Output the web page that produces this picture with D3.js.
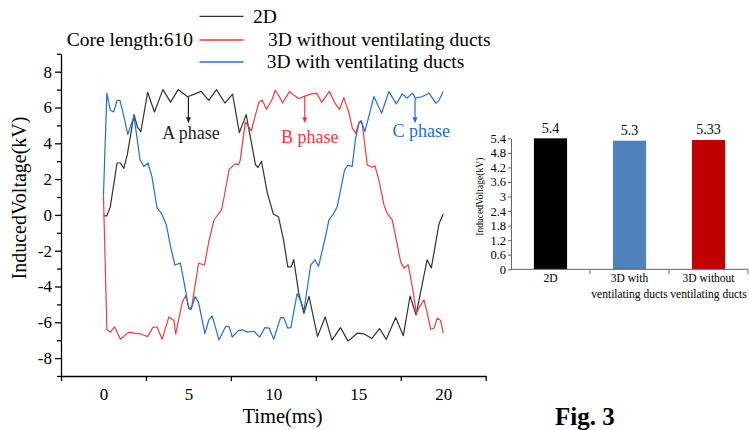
<!DOCTYPE html>
<html>
<head>
<meta charset="utf-8">
<script src="https://cdn.jsdelivr.net/npm/d3@7"></script>
<style>
  body { margin: 0; background: #fff; }
  svg, svg text { font-family: "Liberation Serif", "Times New Roman", serif; }
</style>
</head>
<body>
<svg width="749" height="430"></svg>
<script>
// induced voltage waveforms, [time ms, kV]
const series2D = [[0,-0.05],[0.2,-0.05],[0.4,0.45],[0.8,2.9],[1.0,2.9],[1.2,2.6],[1.4,3.35],[1.8,5.6],[2.0,4.9],[2.2,4.65],
  [2.6,6.85],[3.0,5.75],[3.5,7.0],[3.95,6.3],[4.4,7.0],[4.95,6.6],[5.35,6.75],[5.75,6.9],[6.2,6.4],[6.65,7.0],[7.15,6.25],[7.6,6.75],
  [8.0,4.6],[8.4,5.6],[8.95,2.8],[9.1,2.65],[9.3,3.0],[9.65,1.2],[10.0,0.05],[10.3,-0.1],[10.6,-1.4],[10.85,-2.9],[11.05,-2.9],
  [11.2,-2.5],[11.5,-4.4],[11.8,-5.5],[12.1,-4.55],[12.6,-6.8],[13.05,-5.7],[13.45,-7.0],[13.95,-6.3],[14.4,-7.05],[14.95,-6.6],
  [15.35,-6.65],[15.8,-6.9],[16.25,-6.35],[16.65,-6.95],[17.2,-5.73],[17.65,-6.75],[18.05,-4.53],[18.4,-5.59],[19.05,-2.51],
  [19.3,-2.96],[19.75,-0.5],[20.0,0.05]];
const series3DNoDuct = [[0,1.1],[0.2,-6.4],[0.4,-6.55],[0.65,-6.25],[1.0,-6.95],[1.5,-6.55],[1.8,-6.6],[2.2,-6.65],[2.6,-6.8],
  [2.9,-6.3],[3.15,-6.25],[3.45,-6.95],[3.85,-5.7],[4.15,-5.9],[4.25,-6.65],[4.65,-4.85],[4.85,-4.5],[5.05,-5.25],[5.2,-5.1],
  [5.6,-2.7],[5.95,-2.8],[6.2,-1.5],[6.5,-0.3],[6.95,0.3],[7.1,1.0],[7.4,2.55],[7.75,2.85],[7.95,2.8],[8.05,3.05],[8.35,5.2],
  [8.7,4.7],[9.15,6.3],[9.35,6.4],[9.6,5.9],[9.95,6.5],[10.1,6.95],[10.3,6.7],[10.55,6.25],[10.95,6.9],[11.2,6.7],[11.5,6.5],
  [11.9,6.65],[12.2,6.75],[12.55,6.8],[12.85,6.3],[13.3,6.9],[13.65,6.2],[13.9,5.9],[14.15,6.55],[14.45,5.7],[14.65,4.85],
  [14.85,4.55],[15.05,5.2],[15.23,5.12],[15.53,2.79],[15.82,2.66],[15.98,2.74],[16.21,1.96],[16.51,0.56],[16.7,0.09],[17.0,-0.28],
  [17.2,-1.21],[17.49,-2.61],[17.69,-2.98],[17.94,-2.79],[18.18,-4.0],[18.42,-5.49],[18.61,-5.12],[18.87,-4.75],[19.06,-5.49],
  [19.26,-6.39],[19.46,-6.33],[19.65,-5.77],[19.85,-5.9],[20.0,-6.6]];
const series3DDuct = [[0,1.1],[0.2,6.8],[0.4,5.85],[0.6,5.75],[0.8,6.4],[0.97,6.4],[1.2,5.5],[1.43,4.5],[1.65,5.1],[1.8,5.5],
  [2.15,3.1],[2.37,2.7],[2.62,2.9],[2.85,2.15],[3.15,0.4],[3.4,0.1],[3.7,-0.55],[3.95,-1.77],[4.2,-2.79],[4.53,-2.7],[4.85,-4.3],
  [5.0,-5.2],[5.15,-5.3],[5.4,-4.56],[5.6,-4.9],[5.97,-6.63],[6.2,-5.87],[6.4,-5.64],[6.8,-6.98],[7.2,-6.22],[7.4,-6.24],
  [7.58,-6.83],[7.95,-6.45],[8.2,-6.42],[8.47,-6.55],[8.85,-6.5],[9.2,-6.83],[9.5,-6.3],[9.75,-6.32],[10.02,-6.95],[10.42,-5.75],
  [10.6,-5.72],[10.85,-6.33],[11.03,-6.3],[11.4,-4.4],[11.62,-4.84],[11.8,-5.35],[12.2,-2.8],[12.45,-2.51],[12.66,-2.87],
  [13.07,-1.21],[13.27,-0.28],[13.56,0.09],[13.76,0.46],[13.96,1.4],[14.19,2.5],[14.39,2.79],[14.64,2.7],[14.84,4.28],[15.04,5.12],
  [15.17,5.27],[15.39,4.65],[15.92,6.61],[16.37,5.68],[16.8,6.89],[17.24,6.2],[17.59,6.76],[17.88,6.52],[18.18,6.8],[18.37,6.52],
  [18.75,6.6],[19.16,6.8],[19.56,6.24],[19.75,6.4],[20.0,6.9]];

const seriesNames = ["2D", "3D without ventilating ducts", "3D with ventilating ducts"];
const seriesColors = ["#333333", "#f23a3a", "#1f6fd6"];
const xMajorTicks = [0, 5, 10, 15, 20];
const xMinorTicks = [-2.5, 2.5, 7.5, 12.5, 17.5, 22.5];
const yMajorTicks = [-8, -6, -4, -2, 0, 2, 4, 6, 8];
const yMinorTicks = [-9, -7, -5, -3, -1, 1, 3, 5, 7, 9];

// phase annotations: label, time, arrow top, arrow tip, label time, label value
const phaseLabels = ["A phase", "B phase", "C phase"];
const phaseTimes = [5.0, 11.85, 18.34];
const phaseTop = [6.58, 6.65, 6.52];
const phaseTip = [5.12, 5.12, 5.12];
const phaseTextT = [5.15, 12.15, 18.7];
const phaseTextV = [4.25, 4.04, 4.34];
const phaseColors = ["#222222", "#f23a3a", "#1f6fd6"];

// inset bar chart
const barCategories = ["2D", "3D with ventilating ducts", "3D without ventilating ducts"];
const barLines = [["2D"], ["3D with", "ventilating ducts"], ["3D without", "ventilating ducts"]];
const barValues = [5.4, 5.3, 5.33];
const barLabels = ["5.4", "5.3", "5.33"];
const barColors = ["#000000", "#4f81bd", "#c00000"];
const barTicks = [0, 0.6, 1.2, 1.8, 2.4, 3, 3.6, 4.2, 4.8, 5.4];

const svg = d3.select("svg");

// ---- main chart ----
const x = d3.scaleLinear().domain([-2.5, 22.5]).range([61, 485.7]);
const y = d3.scaleLinear().domain([-9, 9]).range([376, 53.8]);

const line = d3.line().x(d => x(d[0])).y(d => y(d[1]));
[series2D, series3DNoDuct, series3DDuct].forEach((s, i) => {
  svg.append("path").datum(s)
    .attr("d", line)
    .attr("fill", "none")
    .attr("stroke", seriesColors[i])
    .attr("stroke-width", 1.2)
    .attr("stroke-linejoin", "round");
});

// axes (drop d3's default sans-serif font attrs)
function cleanAxis(g, size) {
  g.attr("font-family", null).attr("font-size", null);
  g.selectAll("text").attr("font-size", size).attr("fill", "#000");
  return g;
}

svg.append("g").attr("transform", `translate(${x(-2.5)},0)`)
  .call(d3.axisLeft(y).tickValues(yMinorTicks).tickSize(4).tickSizeOuter(0).tickFormat(""));
const yAxis = svg.append("g").attr("transform", `translate(${x(-2.5)},0)`)
  .call(d3.axisLeft(y).tickValues(yMajorTicks).tickSize(6).tickPadding(3).tickSizeOuter(0).tickFormat(d => String(d)));
yAxis.select(".domain").remove();
cleanAxis(yAxis, 17);

svg.append("g").attr("transform", `translate(0,${y(-9)})`)
  .call(d3.axisBottom(x).tickValues(xMinorTicks).tickSize(5).tickSizeOuter(0).tickFormat(""));
const xAxis = svg.append("g").attr("transform", `translate(0,${y(-9)})`)
  .call(d3.axisBottom(x).tickValues(xMajorTicks).tickSize(0).tickPadding(12).tickFormat(d => String(d)));
xAxis.select(".domain").remove();
cleanAxis(xAxis, 17);

svg.selectAll(".domain, .tick line").attr("stroke", "#000").attr("stroke-width", 1.3);

svg.append("text").attr("x", 282.5).attr("y", 423).attr("text-anchor", "middle")
  .attr("font-size", 20.5).text("Time(ms)");
svg.append("text").attr("transform", "translate(25.5,198) rotate(-90)").attr("text-anchor", "middle")
  .attr("font-size", 20).text("InducedVoltage(kV)");

// phase arrows
phaseLabels.forEach((lab, i) => {
  const ax = x(phaseTimes[i]);
  svg.append("line").attr("x1", ax).attr("x2", ax)
    .attr("y1", y(phaseTop[i])).attr("y2", y(phaseTip[i]) - 5)
    .attr("stroke", phaseColors[i]).attr("stroke-width", 1.2);
  svg.append("path")
    .attr("d", `M${ax - 2.5},${y(phaseTip[i]) - 6}L${ax + 2.5},${y(phaseTip[i]) - 6}L${ax},${y(phaseTip[i])}Z`)
    .attr("fill", phaseColors[i]);
  svg.append("text").attr("x", x(phaseTextT[i])).attr("y", y(phaseTextV[i]))
    .attr("text-anchor", "middle").attr("font-size", 18).attr("fill", phaseColors[i]).text(lab);
});

// legend
const legendY = [16.3, 40, 62];
const legendTextX = [253, 268, 266.7];
const legendTextY = [22.7, 45.5, 68];
seriesNames.forEach((n, i) => {
  svg.append("line").attr("x1", 199.5).attr("x2", 243.5).attr("y1", legendY[i]).attr("y2", legendY[i])
    .attr("stroke", seriesColors[i]).attr("stroke-width", 1.3);
  svg.append("text").attr("x", legendTextX[i]).attr("y", legendTextY[i])
    .attr("font-size", 19.5).text(n);
});
svg.append("text").attr("x", 66.7).attr("y", 45.5).attr("font-size", 19.5).text("Core length:610");

// ---- inset bar chart ----
const xb = d3.scaleBand().domain(barCategories).range([511, 748]).paddingInner(0.58).paddingOuter(0.29);
const yb = d3.scaleLinear().domain([0, 5.4]).range([269.3, 138.3]);

svg.selectAll(".bar").data(barValues).join("rect")
  .attr("class", "bar")
  .attr("x", (d, i) => xb(barCategories[i]))
  .attr("width", xb.bandwidth())
  .attr("y", d => yb(d))
  .attr("height", d => yb(0) - yb(d))
  .attr("fill", (d, i) => barColors[i]);

svg.selectAll(".barval").data(barValues).join("text")
  .attr("class", "barval")
  .attr("x", (d, i) => xb(barCategories[i]) + xb.bandwidth() / 2)
  .attr("y", d => yb(d) - 5.5)
  .attr("text-anchor", "middle").attr("font-size", 14)
  .text((d, i) => barLabels[i]);

const yBarAxis = svg.append("g").attr("transform", `translate(${xb.range()[0]},0)`)
  .call(d3.axisLeft(yb).tickValues(barTicks).tickSize(3).tickPadding(2).tickSizeOuter(0).tickFormat(d => String(d)));
cleanAxis(yBarAxis, 12.5);
yBarAxis.selectAll(".domain, line").attr("stroke", "#666");

// category axis with boundary ticks
const bounds = barCategories.map(c => xb(c) + xb.bandwidth() + xb.step() * xb.paddingInner() / 2);
svg.append("line").attr("x1", xb.range()[0]).attr("x2", xb.range()[1])
  .attr("y1", yb(0)).attr("y2", yb(0)).attr("stroke", "#666");
svg.selectAll(".bound").data(bounds).join("line").attr("class", "bound")
  .attr("x1", d => d).attr("x2", d => d).attr("y1", yb(0)).attr("y2", yb(0) + 5).attr("stroke", "#666");

barLines.forEach((lines, i) => {
  const t = svg.append("text").attr("text-anchor", "middle").attr("font-size", 11.5);
  lines.forEach((l, j) => {
    t.append("tspan").attr("x", xb(barCategories[i]) + xb.bandwidth() / 2)
      .attr("y", yb(0) + 12.5 + j * 16).text(l);
  });
});

svg.append("text").attr("transform", "translate(483,196.7) rotate(-90)").attr("text-anchor", "middle")
  .attr("font-size", 9.6).text("InducedVoltage(kV)");

svg.append("text").attr("x", 555).attr("y", 425).attr("font-size", 25).attr("font-weight", "bold").text("Fig. 3");
</script>
</body>
</html>
